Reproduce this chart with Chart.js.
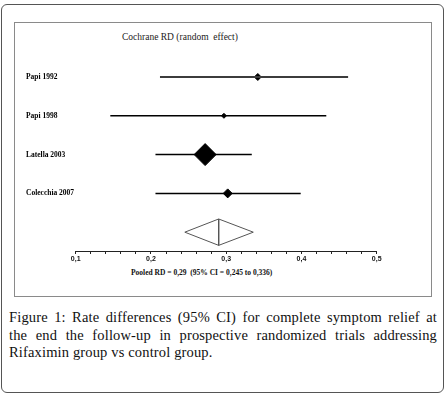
<!DOCTYPE html>
<html>
<head>
<meta charset="utf-8">
<script src="https://cdn.jsdelivr.net/npm/chart.js@4/dist/chart.umd.min.js"></script>
<style>
  html, body { margin: 0; padding: 0; background: #fff; }
  body { width: 446px; height: 401px; position: relative; overflow: hidden; }
  .frame { position: absolute; left: 1px; top: 4px; width: 441px; height: 387px; border: 1px solid #555; border-radius: 6px; }
  .panel { position: absolute; left: 14px; top: 22px; width: 416px; height: 273px; border: 1px solid #8a8a8a; }
  .title { position: absolute; left: 122px; top: 32px; font-family: "Liberation Serif", "Times New Roman", serif; font-size: 9.5px; color: #222; white-space: pre; }
  .pooled { position: absolute; left: 131px; top: 268px; font-family: "Liberation Serif", "Times New Roman", serif; font-size: 7.5px; font-weight: bold; color: #111; white-space: pre; }
  .caption { position: absolute; left: 9px; top: 309px; width: 428px; font-family: "Liberation Serif", "Times New Roman", serif; font-size: 14.5px; line-height: 17.5px; color: #111; letter-spacing: 0.15px; }
  .caption div { white-space: nowrap; text-align: justify; text-align-last: justify; }
  .caption div.last { text-align-last: left; }
  #chart { position: absolute; left: 0; top: 0; z-index: 2; pointer-events: none; }
</style>
</head>
<body>
<div class="frame"></div>
<div class="panel"></div>
<div class="title">Cochrane RD (random  effect)</div>
<div class="pooled">Pooled RD = 0,29  (95% CI = 0,245 to 0,336)</div>
<div class="caption">
  <div>Figure 1: Rate differences (95% CI) for complete symptom relief at</div>
  <div>the end the follow-up in prospective randomized trials addressing</div>
  <div class="last">Rifaximin group vs control group.</div>
</div>
<canvas id="chart" width="446" height="401"></canvas>
<script>
// study rows, top to bottom
const STUDIES = ["Papi 1992", "Papi 1998", "Latella 2003", "Colecchia 2007"];
const RD_LOW = [0.212, 0.146, 0.206, 0.206];
const RD_EST = [0.342, 0.297, 0.272, 0.302];
const RD_HIGH = [0.462, 0.433, 0.334, 0.399];

// pooled random-effect estimate
const POOLED_EST = 0.29;
const POOLED_LOW = 0.245;
const POOLED_HIGH = 0.336;

// x axis labels
const X_TICKS = [0.1, 0.2, 0.3, 0.4, 0.5];
const X_LABELS = ["0,1", "0,2", "0,3", "0,4", "0,5"];

const pooledRow = STUDIES.length;
const diamondHalf = 0.34;
const markerRadius = [3.5, 2.5, 11, 4.5];

const ciSets = STUDIES.map((name, i) => ({
  label: name,
  data: [{ x: RD_LOW[i], y: i }, { x: RD_HIGH[i], y: i }],
  showLine: true,
  borderColor: i === 0 ? "#3c3c3c" : "#000",
  borderWidth: i === 0 ? 2 : 1.5,
  pointRadius: 0,
}));

const pointSet = {
  label: "RD",
  data: RD_EST.map((x, i) => ({ x, y: i })),
  pointStyle: "rectRot",
  pointRadius: markerRadius,
  backgroundColor: "#000",
  borderColor: "#000",
  borderWidth: 1,
};

const pooledSet = {
  label: "Pooled",
  data: [
    { x: POOLED_LOW, y: pooledRow },
    { x: POOLED_EST, y: pooledRow - diamondHalf },
    { x: POOLED_HIGH, y: pooledRow },
    { x: POOLED_EST, y: pooledRow + diamondHalf },
    { x: POOLED_LOW, y: pooledRow },
  ],
  showLine: true,
  borderColor: "#555",
  borderWidth: 1,
  pointRadius: 0,
};

const pooledMid = {
  label: "Pooled estimate",
  data: [{ x: POOLED_EST, y: pooledRow - diamondHalf }, { x: POOLED_EST, y: pooledRow + diamondHalf }],
  showLine: true,
  borderColor: "#555",
  borderWidth: 1,
  pointRadius: 0,
};

const majorIndex = (v) => X_TICKS.findIndex((t) => Math.abs(t - v) < 1e-6);

new Chart(document.getElementById("chart"), {
  type: "scatter",
  data: { datasets: [...ciSets, pointSet, pooledSet, pooledMid] },
  options: {
    responsive: false,
    animation: false,
    layout: { padding: { left: 26, right: 69.3, top: 22, bottom: 136 } },
    plugins: { legend: { display: false }, tooltip: { enabled: false } },
    scales: {
      x: {
        type: "linear",
        min: 0.1,
        max: 0.5,
        afterFit: (s) => { s.height = 14; },
        afterBuildTicks: (s) => {
          const t = [];
          for (let k = 0; k <= 20; k++) t.push({ value: +(0.1 + k * 0.02).toFixed(2) });
          s.ticks = t;
        },
        ticks: {
          autoSkip: false,
          maxRotation: 0,
          padding: 1,
          color: "#111",
          font: { family: "Liberation Sans", size: 7, weight: "bold" },
          callback: (v) => {
            const i = majorIndex(v);
            return i >= 0 ? X_LABELS[i] : "";
          },
        },
        grid: { drawOnChartArea: false, tickLength: 3, color: "#222" },
        border: { display: true, color: "#222", width: 1 },
      },
      y: {
        type: "linear",
        reverse: true,
        min: -1.4175,
        max: 4.485,
        afterFit: (s) => { s.width = 49.7; },
        afterBuildTicks: (s) => { s.ticks = STUDIES.map((_, i) => ({ value: i })); },
        ticks: {
          crossAlign: "far",
          color: "#000",
          font: { family: "Liberation Serif", size: 7.5, weight: "bold" },
          callback: (v) => STUDIES[v] ?? "",
        },
        grid: { display: false },
        border: { display: false },
      },
    },
  },
});
</script>
</body>
</html>
